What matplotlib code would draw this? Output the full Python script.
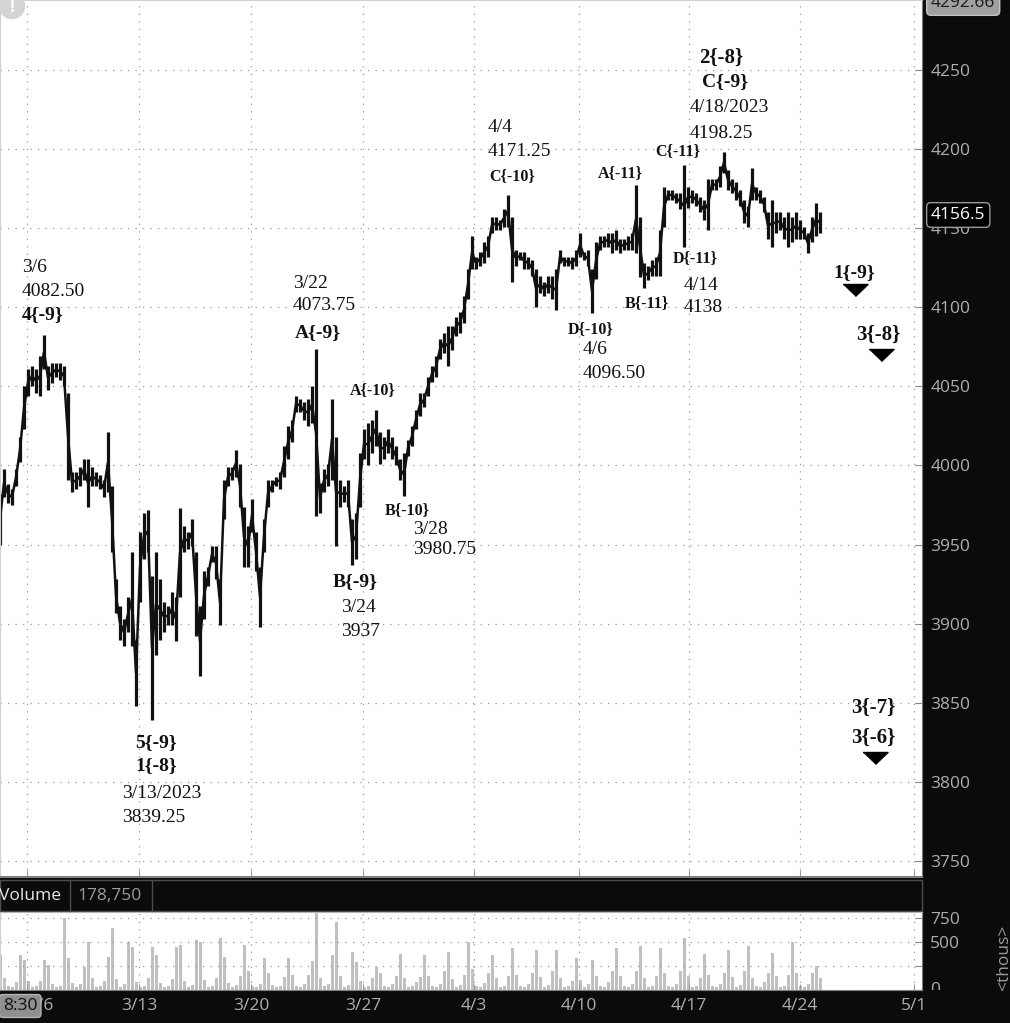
import matplotlib
matplotlib.use('Agg')
import matplotlib.pyplot as plt
import matplotlib.transforms as mtransforms
from matplotlib.patches import Rectangle, Ellipse
from matplotlib.lines import Line2D
import numpy as np

plt.rcParams['font.family'] = ['Open Sans', 'DejaVu Sans']

W, H = 1010, 1023

# session axis: one bar ~ 1/5.6 of a trading day
date_labels = ['3/6', '3/13', '3/20', '3/27', '4/3', '4/10', '4/17', '4/24', '5/1']
date_pos = [6.75, 34.75, 62.75, 90.75, 118.5, 144.75, 172.25, 200.0, 228.5]

lows = [3950, 3980, 3976, 3975, 3987, 4002, 4023, 4044, 4050, 4046,
        4044, 4061, 4048, 4052, 4056, 4054, 4050, 3991, 3983, 3985,
        3987, 3991, 3974, 3987, 3987, 3985, 3980, 3983, 3945, 3907,
        3890, 3886, 3895, 3886, 3848, 3914, 3941, 3945, 3839.25, 3880,
        3890, 3895, 3899, 3899, 3889, 3917, 3945, 3947, 3949, 3892,
        3867, 3903, 3924, 3939, 3928, 3899, 3966, 3987, 3991, 3993,
        3974, 3936, 3936, 3958, 3933, 3898, 3945, 3974, 3983, 3987,
        3985, 3993, 4004, 4015, 4034, 4034, 4029, 4025, 4027, 3968,
        3970, 3983, 3987, 3991, 3949, 3974, 3977, 3974, 3937, 3941,
        3974, 4004, 4000, 4008, 4012, 4001, 4004, 4008, 4004, 4000,
        3991, 3980.75, 4006, 4012, 4023, 4031, 4037, 4044, 4053, 4056,
        4067, 4071, 4063, 4073, 4082, 4084, 4090, 4105, 4124, 4124,
        4126, 4128, 4132, 4147, 4149, 4149, 4151, 4151, 4116, 4126,
        4130, 4124, 4124, 4120, 4100, 4109, 4107, 4109, 4105, 4098,
        4128, 4126, 4126, 4124, 4126, 4132, 4130, 4126, 4096.5, 4118,
        4136, 4138, 4138, 4134, 4136, 4134, 4136, 4136, 4136, 4134,
        4119, 4112, 4117, 4120, 4120, 4120, 4151, 4168, 4168, 4166,
        4162, 4138, 4163, 4166, 4164, 4160, 4155, 4149, 4174, 4174,
        4176, 4185, 4174, 4172, 4168, 4164, 4153, 4151, 4168, 4168,
        4166, 4160, 4143, 4138, 4147, 4149, 4143, 4138, 4141, 4143,
        4143, 4143, 4134, 4141, 4145, 4147]

highs = [3982, 3998, 3988, 3985, 3998, 4018, 4050, 4061, 4063, 4061,
         4069, 4082.5, 4063, 4065, 4065, 4065, 4063, 4046, 3996, 3996,
         3999, 4004, 4004, 3999, 3996, 3994, 3991, 4021, 3987, 3928,
         3911, 3903, 3917, 3945, 3890, 3958, 3970, 3972, 3930, 3945,
         3928, 3914, 3911, 3920, 3917, 3973, 3962, 3958, 3966, 3945,
         3911, 3933, 3936, 3949, 3949, 3928, 3991, 3999, 3999, 4010,
         4001, 3974, 3962, 3979, 3958, 3936, 3966, 3991, 3991, 3993,
         3996, 4012, 4025, 4029, 4044, 4042, 4040, 4042, 4050, 4073.75,
         3989, 3998, 4001, 4042, 4018, 3991, 3987, 3991, 3966, 3970,
         4008, 4023, 4027, 4029, 4035, 4021, 4018, 4023, 4018, 4012,
         4004, 4008, 4016, 4025, 4035, 4046, 4046, 4056, 4063, 4069,
         4080, 4084, 4088, 4088, 4094, 4097, 4107, 4124, 4145, 4132,
         4135, 4141, 4145, 4157, 4157, 4155, 4162, 4171.25, 4157, 4136,
         4135, 4135, 4132, 4130, 4124, 4120, 4116, 4120, 4120, 4124,
         4136, 4132, 4132, 4132, 4136, 4147, 4135, 4136, 4124, 4141,
         4145, 4145, 4147, 4147, 4149, 4143, 4143, 4145, 4147, 4177.5,
         4157, 4128, 4126, 4130, 4132, 4149, 4176, 4174, 4174, 4172,
         4172, 4190, 4176, 4174, 4172, 4170, 4168, 4181, 4181, 4181,
         4189, 4198.25, 4187, 4181, 4179, 4174, 4168, 4164, 4188, 4176,
         4174, 4170, 4160, 4168, 4160, 4160, 4157, 4160, 4157, 4160,
         4155, 4151, 4147, 4157, 4166, 4160]

# volume, thousands of contracts
volume = [360, 120, 40, 30, 80, 360, 310, 90, 35, 40,
          90, 310, 260, 60, 30, 40, 750, 330, 70, 30,
          60, 240, 500, 120, 30, 40, 90, 344, 646, 110,
          35, 60, 500, 450, 80, 30, 40, 120, 450, 365,
          70, 30, 40, 110, 450, 470, 90, 30, 50, 520,
          500, 100, 35, 40, 120, 540, 344, 70, 30, 50,
          150, 470, 200, 40, 30, 60, 330, 180, 50, 30,
          40, 140, 330, 160, 40, 30, 60, 160, 300, 800,
          120, 40, 60, 365, 708, 150, 35, 50, 400, 290,
          90, 30, 40, 130, 240, 180, 40, 30, 60, 150,
          370, 120, 35, 40, 80, 140, 360, 150, 40, 30,
          60, 200, 400, 110, 35, 50, 160, 500, 220, 40,
          30, 70, 180, 360, 120, 30, 40, 150, 440, 160,
          40, 30, 60, 180, 420, 140, 30, 50, 200, 420,
          120, 30, 40, 90, 330, 100, 30, 60, 310, 150,
          40, 30, 80, 200, 440, 150, 40, 30, 60, 200,
          460, 120, 30, 40, 150, 440, 180, 40, 30, 60,
          200, 540, 150, 35, 40, 120, 370, 160, 40, 30,
          60, 180, 420, 140, 30, 50, 200, 460, 120, 40,
          30, 80, 180, 380, 150, 35, 40, 160, 500, 180,
          40, 30, 60, 180, 250, 120]

last_price = 4156.5
top_price = '4292.66'
last_volume = '178,750'

# projected targets (triangles)
target_bar = [213.75, 220.25, 218.75]
target_price = [4111, 4070, 3815]

# wave labels: (text, x px, y px, kind)
notes = [
    ('3/6', 22, 268, 'n'), ('4082.50', 22, 291, 'n'), ('4{-9}', 22, 315, 'b'),
    ('3/22', 293, 283, 'n'), ('4073.75', 293, 306, 'n'), ('A{-9}', 295, 333, 'b'),
    ('A{-10}', 350, 390, 's'),
    ('B{-10}', 385, 510, 's'), ('3/28', 413, 529, 'n'), ('3980.75', 413, 550, 'n'),
    ('B{-9}', 333, 582, 'b'), ('3/24', 341, 608, 'n'), ('3937', 341, 632, 'n'),
    ('5{-9}', 135, 743, 'b'), ('1{-8}', 135, 766, 'b'),
    ('3/13/2023', 122, 793, 'n'), ('3839.25', 122, 817, 'n'),
    ('4/4', 488, 128, 'n'), ('4171.25', 488, 152, 'n'), ('C{-10}', 489, 176, 's'),
    ('D{-10}', 568, 329, 's'), ('4/6', 583, 350, 'n'), ('4096.50', 583, 373, 'n'),
    ('A{-11}', 598, 173, 's'), ('B{-11}', 625, 303, 's'),
    ('C{-11}', 655, 151, 's'),
    ('D{-11}', 673, 258, 's'), ('4/14', 684, 285, 'n'), ('4138', 684, 308, 'n'),
    ('2{-8}', 699, 58, 'L'), ('C{-9}', 702, 82, 'b'),
    ('4/18/2023', 690, 108, 'n'), ('4198.25', 690, 133, 'n'),
    ('1{-9}', 833, 273, 'b'), ('3{-8}', 856, 335, 'L'),
    ('3{-7}', 851, 708, 'L'), ('3{-6}', 851, 738, 'L'),
]

bg = '#0b0b0b'
grid_kw = dict(color='#9a9a9a', linestyle=(0, (1, 5)), linewidth=0.9)
lab_col = '#aeaeae'

fig = plt.figure(figsize=(W / 100, H / 100), dpi=100, facecolor=bg)


def fx(px):
    return px / W


def fy(py):
    return 1 - py / H


def ptext(x, y, s, **kw):
    return fig.text(fx(x), fy(y), s, **kw)


# ---- price panel
ax = fig.add_axes([0, fy(877), fx(922), 877 / H])
ax.set_facecolor('white')
x = np.arange(len(highs))
lo = np.array(lows)
hi = np.array(highs)
ax.vlines(x, lo, hi, color='#111111', lw=2.3)
ax.plot(x, (lo + hi) / 2, color='#111111', lw=1.8)
ax.plot(target_bar, target_price, linestyle='none', color='black',
        marker=[(-1, 0.48), (1, 0.48), (0, -0.48)], markersize=18)

ax.set_xlim(0, 230.5)
ax.set_ylim(3739.9, 4294.2)
ax.set_yticks(np.arange(3750, 4251, 50))
ax.set_xticks(date_pos)
ax.yaxis.tick_right()
ax.grid(True, **grid_kw)
ax.tick_params(axis='y', direction='in', length=5, color='#8a8a8a', pad=6,
               labelcolor=lab_col, labelsize=12.5)
ax.tick_params(axis='x', direction='in', length=5, color='#9a9a9a',
               labelbottom=False)
for s in ['left', 'top']:
    ax.spines[s].set_color('#d0d0d0')
ax.spines['right'].set_color('#7a7a7a')
ax.spines['bottom'].set_color('#808080')
ax.spines['bottom'].set_linewidth(1.5)

for s, px_x, px_y, kind in notes:
    if kind == 'n':
        kw = dict(fontsize=14, fontweight='normal')
    elif kind == 'b':
        kw = dict(fontsize=14, fontweight='bold')
    elif kind == 's':
        kw = dict(fontsize=11.5, fontweight='bold')
    else:
        kw = dict(fontsize=15, fontweight='bold')
    ptext(px_x, px_y, s, family='Liberation Serif', color='#111111',
          ha='left', va='center', **kw)

# ---- volume panel
axv = fig.add_axes([0, fy(990), fx(922), (990 - 912) / H])
axv.set_facecolor('white')
axv.bar(x, volume, width=0.75, color='#c0c0c0', linewidth=0)
axv.set_xlim(0, 230.5)
axv.set_ylim(0, 812)
axv.set_yticks([0, 250, 500, 750], ['', '', '500', '750'])
axv.set_xticks(date_pos, date_labels)
axv.yaxis.tick_right()
axv.grid(True, **grid_kw)
axv.tick_params(axis='y', direction='in', length=5, color='#8a8a8a', pad=6,
                labelcolor=lab_col, labelsize=12.5)
axv.tick_params(axis='x', direction='in', length=4, color='#9a9a9a', pad=6,
                labelcolor=lab_col, labelsize=12.5)
for i, lab in enumerate(axv.get_xticklabels()):
    lab.set_ha('left' if i == 0 else 'center')
for s in ['left', 'top']:
    axv.spines[s].set_color('#d0d0d0')
axv.spines['right'].set_color('#7a7a7a')
axv.spines['bottom'].set_color('#808080')

zero = ptext(930, 990, '0', color=lab_col, fontsize=12.5, ha='left', va='center')
zero.set_clip_box(mtransforms.TransformedBbox(
    mtransforms.Bbox([[fx(922), fy(990)], [1, fy(912)]]), fig.transFigure))
zero.set_clip_on(True)

# ---- header of the volume study
fig.add_artist(Rectangle((0, fy(911)), fx(922), 31 / H, fill=False,
                         ec='#4d4d4d', lw=1, transform=fig.transFigure))
for vx in [70, 152]:
    fig.add_artist(Line2D([fx(vx), fx(vx)], [fy(880), fy(911)], color='#4d4d4d',
                          lw=1, transform=fig.transFigure))
ptext(-1, 896, 'Volume', color='#e8e8e8', fontsize=12.5, ha='left', va='center')
ptext(77, 896, last_volume, color='#9c9c9c', fontsize=12.5, ha='left', va='center')

# ---- price flags on the right scale
ptext(931, 215, f'{last_price}', color='white', fontsize=12.5, ha='left', va='center',
      bbox=dict(boxstyle='round,pad=0.25', fc='black', ec='#9a9a9a', lw=1))
ptext(931, 3, top_price, color='#1a1a1a', fontsize=12.5, ha='left', va='center',
      bbox=dict(boxstyle='round,pad=0.25', fc='#a0a0a0', ec='#c4c4c4', lw=1))
ptext(1004, 958, '<thous>', color='#9a9a9a', fontsize=12.5, rotation=90,
      ha='center', va='center')

# time flag and alert icon
ptext(3, 1006, '8:30', color='#111111', fontsize=12.5, ha='left', va='center',
      bbox=dict(boxstyle='round,pad=0.2', fc='#8f8f8f', ec='#b5b5b5', lw=1), zorder=5)
fig.add_artist(Ellipse((fx(12), fy(6)), fx(25), 25 / H, color='#d4d4d4',
                       transform=fig.transFigure))
ptext(12, 7, '!', color='white', fontsize=12, fontweight='bold', ha='center',
      va='center', zorder=5)

fig.savefig('out.png', dpi=100, facecolor=bg)
